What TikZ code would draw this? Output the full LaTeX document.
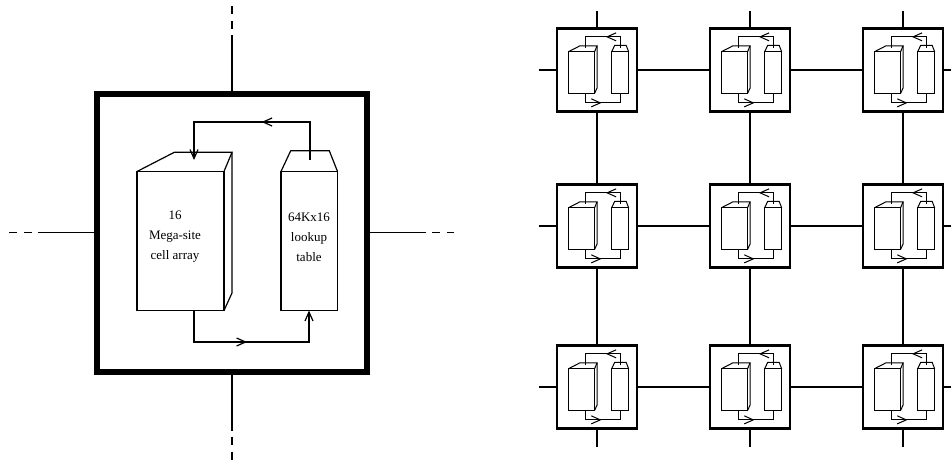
\documentclass[tikz,border=0pt]{standalone}
\usepackage{fontspec}
\setmainfont{Liberation Serif}
\usetikzlibrary{arrows.meta,decorations.markings}
\newcommand\cellparts[5]{% #1 prefix, #2 box node, #3 scale, #4 end-arrow style, #5 line width
\begin{scope}[shift={(#2.center)},scale=#3,line width=#5]
  % cell array block (front, top, side)
  \coordinate (#1fa) at (-95,-61);
  \coordinate (#1fb) at (-8,78);
  \draw (#1fa) rectangle (#1fb);
  \draw (#1fa) -- (-57.7,-80.2) -- (0,-80.2) -- (-8,-61);
  \draw (0,-80.2) -- (0,60.5) -- (#1fb);
  % lookup table block
  \coordinate (#1la) at (49,-61);
  \coordinate (#1lbb) at (105.5,78);
  \draw (#1la) rectangle (#1lbb);
  \draw (#1la) -- (58.7,-81.8) -- (97.3,-81.8) -- (105.5,-61);
  % connectors
  \coordinate (#1lt) at (78,-72.5);
  \coordinate (#1up) at (-38,-110.5);
  \coordinate (#1ct) at (-38,-72.5);
  \coordinate (#1cb) at (-38,78);
  \coordinate (#1dn) at (77,109.5);
  \coordinate (#1lb) at (77,78);
  \draw[#4,midmark=0.45] (#1lt) |- (#1up) -- (#1ct);
  \draw[#4,midmark=0.475] (#1cb) |- (#1dn) -- (#1lb);
\end{scope}}
\begin{document}
\begin{tikzpicture}[x=1pt,y=-1pt,
  barb/.style={-{Straight Barb[length=9pt,width=8pt]}},
  noend/.style={},
  midmark/.style={postaction={decorate},decoration={markings,
     mark=at position #1 with {\arrow{Straight Barb[length=9pt,width=8pt]}}}},
  bigbox/.style={draw,line width=6pt,minimum width=270pt,minimum height=278pt,inner sep=0pt},
  smallbox/.style={draw,line width=2.5pt,minimum width=80pt,minimum height=83pt,inner sep=0pt},
  boxlabel/.style={align=center,font=\fontsize{13}{20}\selectfont,inner sep=0pt},
  link/.style={line width=1.2pt},
  farlink/.style={line width=1.3pt,dash pattern=on 56pt off 6pt on 8pt off 7pt on 8pt off 200pt}
]
\useasboundingbox (0,0) rectangle (951,461);

% ---- large unit ----
\node[bigbox] (big) at (232,232.5) {};
\cellparts{m}{big}{1}{barb}{1.2pt}
\node[boxlabel] (catext) at (175,237) {16\\Mega-site\\cell array};
\node[boxlabel] (lttext) at (309,237) {64Kx16\\lookup\\table};

\coordinate (ftop) at (232,5);
\coordinate (fbot) at (232,461);
\coordinate (fleft) at (9,232.5);
\coordinate (fright) at (454,232.5);
\draw[farlink] (big.north) -- (ftop);
\draw[farlink] (big.south) -- (fbot);
\draw[farlink] (big.west) -- (fleft);
\draw[farlink] (big.east) -- (fright);

% ---- 3x3 grid ----
\foreach \r/\yy in {1/70,2/226,3/387}{
  \foreach \c/\xx in {1/597,2/750,3/903}{
    \node[smallbox] (b\r\c) at (\xx,\yy) {};
    \cellparts{u\r\c}{b\r\c}{0.3}{noend}{1pt}
  }
}
\foreach \r/\yy in {1/70,2/226,3/387}{
  \coordinate (L\r) at (539,\yy);
  \coordinate (R\r) at (951,\yy);
  \draw[link] (L\r) -- (b\r1.west);
  \draw[link] (b\r1.east) -- (b\r2.west);
  \draw[link] (b\r2.east) -- (b\r3.west);
  \draw[link] (b\r3.east) -- (R\r);
}
\foreach \c/\xx in {1/597,2/750,3/903}{
  \coordinate (T\c) at (\xx,11);
  \coordinate (B\c) at (\xx,447);
  \draw[link] (T\c) -- (b1\c.north);
  \draw[link] (b1\c.south) -- (b2\c.north);
  \draw[link] (b2\c.south) -- (b3\c.north);
  \draw[link] (b3\c.south) -- (B\c);
}
\end{tikzpicture}
\end{document}
